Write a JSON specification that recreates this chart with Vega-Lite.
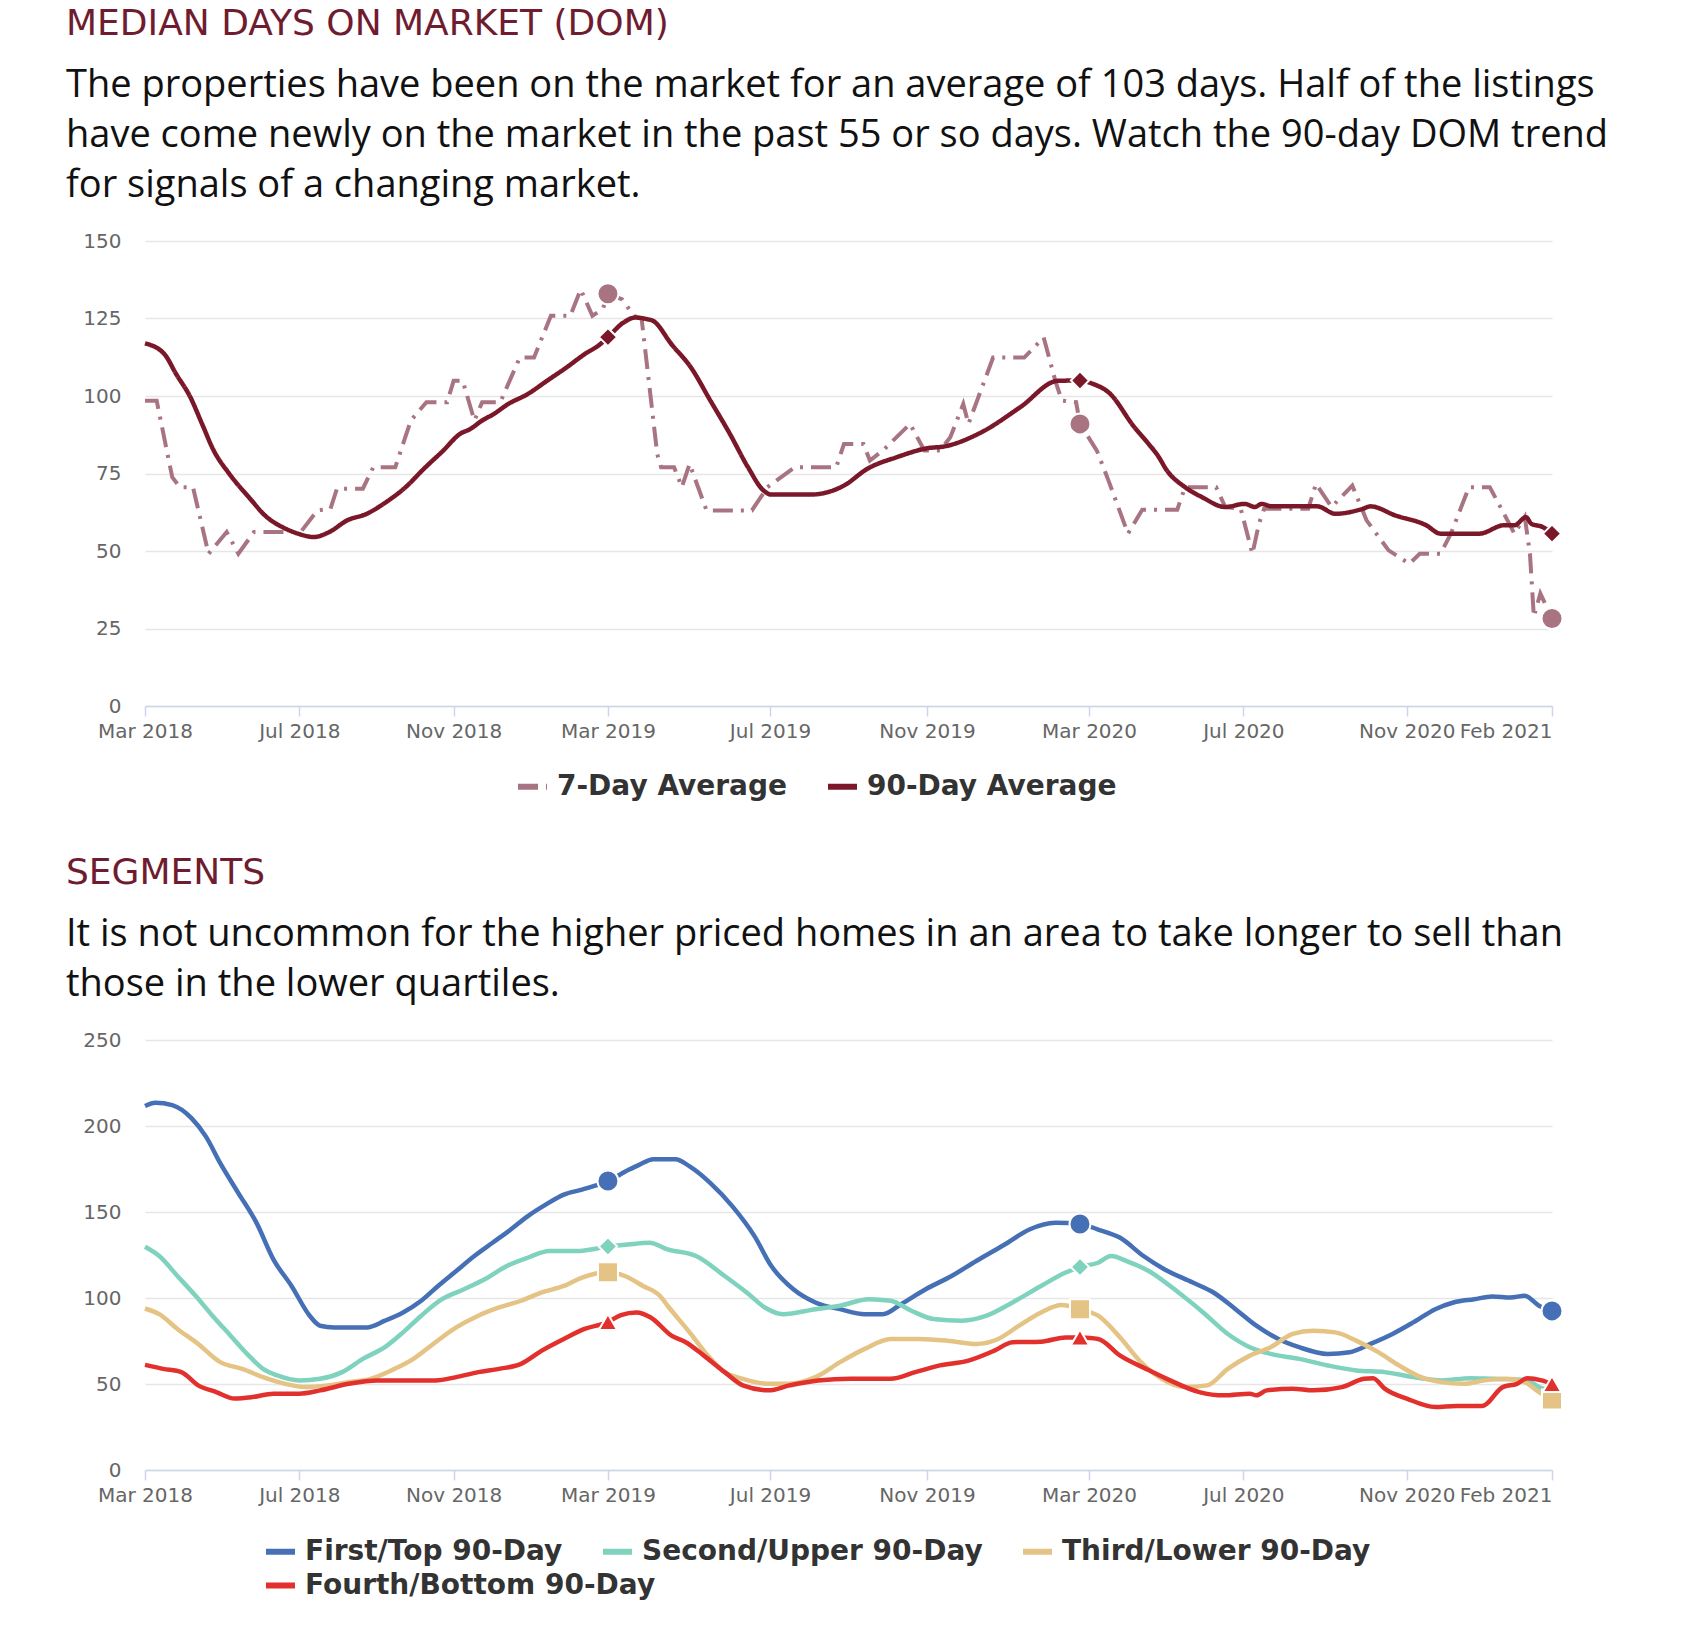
{
  "$schema": "https://vega.github.io/schema/vega-lite/v6.json",
  "background": "white",
  "padding": {"left": 66, "top": 6, "right": 0, "bottom": 0},
  "spacing": 54,
  "resolve": {
    "scale": {"color": "independent", "strokeDash": "independent", "stroke": "independent", "x": "independent", "y": "independent"},
    "legend": {"color": "independent", "strokeDash": "independent", "stroke": "independent"}
  },
  "config": {
    "view": {"stroke": null},
    "font": "DejaVu Sans",
    "axisX": {
      "title": null, "grid": false, "domainColor": "#ccd6eb", "domainWidth": 1.5,
      "tickColor": "#ccd6eb", "tickSize": 10, "tickWidth": 1.5,
      "labelFont": "DejaVu Sans", "labelFontSize": 20, "labelColor": "#666666",
      "labelPadding": 5, "labelOverlap": false, "labelFlush": false, "labelBound": false
    },
    "axisY": {
      "title": null, "grid": true, "gridColor": "#e6e6e6", "gridWidth": 1.5, "domain": false, "ticks": false,
      "labelFont": "DejaVu Sans", "labelFontSize": 20, "labelColor": "#666666", "labelPadding": 24
    },
    "legend": {
      "orient": "none", "direction": "horizontal", "title": null, "padding": 0,
      "symbolType": "stroke", "symbolSize": 841, "symbolStrokeWidth": 6,
      "labelFont": "DejaVu Sans", "labelFontWeight": "bold", "labelFontSize": 28, "labelColor": "#333333",
      "labelOffset": 7, "columnPadding": 28, "labelLimit": 600
    },
    "title": {
      "anchor": "start", "frame": "group", "dx": -79,
      "font": "DejaVu Sans", "fontSize": 36, "fontWeight": "normal", "color": "#6f1c30",
      "subtitleFont": "Open Sans", "subtitleFontSize": 38, "subtitleColor": "#111111",
      "subtitleLineHeight": 50, "subtitlePadding": 24, "offset": 25
    }
  },
  "datasets": {
    "dom": [
      {"date": "2018-03-01", "series": "90-Day Average", "value": 117},
      {"date": "2018-03-16", "series": "90-Day Average", "value": 113.5},
      {"date": "2018-03-25", "series": "90-Day Average", "value": 107.1},
      {"date": "2018-04-05", "series": "90-Day Average", "value": 99.6},
      {"date": "2018-04-14", "series": "90-Day Average", "value": 91.0},
      {"date": "2018-04-23", "series": "90-Day Average", "value": 82.4},
      {"date": "2018-05-05", "series": "90-Day Average", "value": 74.9},
      {"date": "2018-05-20", "series": "90-Day Average", "value": 67.4},
      {"date": "2018-06-03", "series": "90-Day Average", "value": 60.9},
      {"date": "2018-06-15", "series": "90-Day Average", "value": 57.7},
      {"date": "2018-06-27", "series": "90-Day Average", "value": 55.6},
      {"date": "2018-07-09", "series": "90-Day Average", "value": 54.5},
      {"date": "2018-07-21", "series": "90-Day Average", "value": 56.1},
      {"date": "2018-08-04", "series": "90-Day Average", "value": 59.9},
      {"date": "2018-08-19", "series": "90-Day Average", "value": 62.0},
      {"date": "2018-09-03", "series": "90-Day Average", "value": 65.8},
      {"date": "2018-09-18", "series": "90-Day Average", "value": 70.6},
      {"date": "2018-10-02", "series": "90-Day Average", "value": 76.5},
      {"date": "2018-10-17", "series": "90-Day Average", "value": 82.4},
      {"date": "2018-10-30", "series": "90-Day Average", "value": 87.8},
      {"date": "2018-11-07", "series": "90-Day Average", "value": 89.4},
      {"date": "2018-11-16", "series": "90-Day Average", "value": 92.1},
      {"date": "2018-11-25", "series": "90-Day Average", "value": 94.2},
      {"date": "2018-12-06", "series": "90-Day Average", "value": 97.4},
      {"date": "2018-12-21", "series": "90-Day Average", "value": 100.6},
      {"date": "2019-01-05", "series": "90-Day Average", "value": 104.9},
      {"date": "2019-01-20", "series": "90-Day Average", "value": 109.2},
      {"date": "2019-02-03", "series": "90-Day Average", "value": 113.5},
      {"date": "2019-02-15", "series": "90-Day Average", "value": 116.7},
      {"date": "2019-02-21", "series": "90-Day Average", "value": 119.0},
      {"date": "2019-03-05", "series": "90-Day Average", "value": 123.7},
      {"date": "2019-03-14", "series": "90-Day Average", "value": 125.3},
      {"date": "2019-03-23", "series": "90-Day Average", "value": 124.8},
      {"date": "2019-03-28", "series": "90-Day Average", "value": 124.2},
      {"date": "2019-04-11", "series": "90-Day Average", "value": 116.7},
      {"date": "2019-04-26", "series": "90-Day Average", "value": 109.2},
      {"date": "2019-05-11", "series": "90-Day Average", "value": 98.5},
      {"date": "2019-05-26", "series": "90-Day Average", "value": 87.8},
      {"date": "2019-06-09", "series": "90-Day Average", "value": 77.0},
      {"date": "2019-06-21", "series": "90-Day Average", "value": 69.5},
      {"date": "2019-06-27", "series": "90-Day Average", "value": 68.2},
      {"date": "2019-07-27", "series": "90-Day Average", "value": 68.2},
      {"date": "2019-08-22", "series": "90-Day Average", "value": 71.1},
      {"date": "2019-09-09", "series": "90-Day Average", "value": 76.5},
      {"date": "2019-10-02", "series": "90-Day Average", "value": 80.3},
      {"date": "2019-10-26", "series": "90-Day Average", "value": 83.2},
      {"date": "2019-11-07", "series": "90-Day Average", "value": 83.7},
      {"date": "2019-12-06", "series": "90-Day Average", "value": 88.3},
      {"date": "2020-01-05", "series": "90-Day Average", "value": 96.4},
      {"date": "2020-02-03", "series": "90-Day Average", "value": 104.9},
      {"date": "2020-02-20", "series": "90-Day Average", "value": 105.0},
      {"date": "2020-03-01", "series": "90-Day Average", "value": 103.9},
      {"date": "2020-03-13", "series": "90-Day Average", "value": 101.2},
      {"date": "2020-04-02", "series": "90-Day Average", "value": 89.9},
      {"date": "2020-04-13", "series": "90-Day Average", "value": 84.5},
      {"date": "2020-04-20", "series": "90-Day Average", "value": 80.8},
      {"date": "2020-04-27", "series": "90-Day Average", "value": 76.0},
      {"date": "2020-05-11", "series": "90-Day Average", "value": 70.6},
      {"date": "2020-05-24", "series": "90-Day Average", "value": 67.4},
      {"date": "2020-06-11", "series": "90-Day Average", "value": 64.2},
      {"date": "2020-06-26", "series": "90-Day Average", "value": 65.2},
      {"date": "2020-07-04", "series": "90-Day Average", "value": 64.2},
      {"date": "2020-07-09", "series": "90-Day Average", "value": 65.2},
      {"date": "2020-07-17", "series": "90-Day Average", "value": 64.4},
      {"date": "2020-08-21", "series": "90-Day Average", "value": 64.4},
      {"date": "2020-09-04", "series": "90-Day Average", "value": 62.0},
      {"date": "2020-09-25", "series": "90-Day Average", "value": 63.6},
      {"date": "2020-10-01", "series": "90-Day Average", "value": 64.4},
      {"date": "2020-10-20", "series": "90-Day Average", "value": 61.5},
      {"date": "2020-11-13", "series": "90-Day Average", "value": 58.3},
      {"date": "2020-11-24", "series": "90-Day Average", "value": 55.6},
      {"date": "2020-12-24", "series": "90-Day Average", "value": 55.6},
      {"date": "2021-01-12", "series": "90-Day Average", "value": 58.3},
      {"date": "2021-01-20", "series": "90-Day Average", "value": 58.3},
      {"date": "2021-01-29", "series": "90-Day Average", "value": 60.9},
      {"date": "2021-02-02", "series": "90-Day Average", "value": 58.8},
      {"date": "2021-02-11", "series": "90-Day Average", "value": 57.7},
      {"date": "2021-02-18", "series": "90-Day Average", "value": 55.6},
      {"date": "2018-03-01", "series": "7-Day Average", "value": 98.5},
      {"date": "2018-03-10", "series": "7-Day Average", "value": 98.5},
      {"date": "2018-03-22", "series": "7-Day Average", "value": 73.8},
      {"date": "2018-03-28", "series": "7-Day Average", "value": 70.6},
      {"date": "2018-04-07", "series": "7-Day Average", "value": 70.6},
      {"date": "2018-04-19", "series": "7-Day Average", "value": 49.1},
      {"date": "2018-05-03", "series": "7-Day Average", "value": 56.1},
      {"date": "2018-05-12", "series": "7-Day Average", "value": 49.1},
      {"date": "2018-05-24", "series": "7-Day Average", "value": 56.1},
      {"date": "2018-06-29", "series": "7-Day Average", "value": 56.1},
      {"date": "2018-07-12", "series": "7-Day Average", "value": 63.1},
      {"date": "2018-07-22", "series": "7-Day Average", "value": 63.6},
      {"date": "2018-07-27", "series": "7-Day Average", "value": 70.1},
      {"date": "2018-08-16", "series": "7-Day Average", "value": 70.1},
      {"date": "2018-08-24", "series": "7-Day Average", "value": 77.0},
      {"date": "2018-09-10", "series": "7-Day Average", "value": 77.0},
      {"date": "2018-09-22", "series": "7-Day Average", "value": 92.1},
      {"date": "2018-10-04", "series": "7-Day Average", "value": 98.0},
      {"date": "2018-10-20", "series": "7-Day Average", "value": 98.0},
      {"date": "2018-10-25", "series": "7-Day Average", "value": 104.9},
      {"date": "2018-11-01", "series": "7-Day Average", "value": 104.9},
      {"date": "2018-11-10", "series": "7-Day Average", "value": 92.1},
      {"date": "2018-11-16", "series": "7-Day Average", "value": 98.0},
      {"date": "2018-11-30", "series": "7-Day Average", "value": 98.0},
      {"date": "2018-12-15", "series": "7-Day Average", "value": 112.4},
      {"date": "2018-12-26", "series": "7-Day Average", "value": 112.4},
      {"date": "2019-01-08", "series": "7-Day Average", "value": 125.9},
      {"date": "2019-01-23", "series": "7-Day Average", "value": 125.9},
      {"date": "2019-01-31", "series": "7-Day Average", "value": 134.4},
      {"date": "2019-02-09", "series": "7-Day Average", "value": 125.9},
      {"date": "2019-02-17", "series": "7-Day Average", "value": 128.0},
      {"date": "2019-02-21", "series": "7-Day Average", "value": 133.0},
      {"date": "2019-03-04", "series": "7-Day Average", "value": 131.2},
      {"date": "2019-03-13", "series": "7-Day Average", "value": 125.9},
      {"date": "2019-03-19", "series": "7-Day Average", "value": 124.8},
      {"date": "2019-03-31", "series": "7-Day Average", "value": 81.3},
      {"date": "2019-04-03", "series": "7-Day Average", "value": 77.0},
      {"date": "2019-04-13", "series": "7-Day Average", "value": 77.0},
      {"date": "2019-04-19", "series": "7-Day Average", "value": 70.6},
      {"date": "2019-04-25", "series": "7-Day Average", "value": 78.1},
      {"date": "2019-05-08", "series": "7-Day Average", "value": 63.1},
      {"date": "2019-06-12", "series": "7-Day Average", "value": 63.1},
      {"date": "2019-06-24", "series": "7-Day Average", "value": 70.6},
      {"date": "2019-07-15", "series": "7-Day Average", "value": 77.0},
      {"date": "2019-08-16", "series": "7-Day Average", "value": 77.0},
      {"date": "2019-08-22", "series": "7-Day Average", "value": 84.5},
      {"date": "2019-09-06", "series": "7-Day Average", "value": 84.5},
      {"date": "2019-09-11", "series": "7-Day Average", "value": 79.2},
      {"date": "2019-09-21", "series": "7-Day Average", "value": 82.4},
      {"date": "2019-10-12", "series": "7-Day Average", "value": 91.0},
      {"date": "2019-10-23", "series": "7-Day Average", "value": 82.4},
      {"date": "2019-11-04", "series": "7-Day Average", "value": 82.4},
      {"date": "2019-11-12", "series": "7-Day Average", "value": 86.7},
      {"date": "2019-11-22", "series": "7-Day Average", "value": 97.4},
      {"date": "2019-11-26", "series": "7-Day Average", "value": 91.0},
      {"date": "2019-12-15", "series": "7-Day Average", "value": 112.4},
      {"date": "2020-01-08", "series": "7-Day Average", "value": 112.4},
      {"date": "2020-01-23", "series": "7-Day Average", "value": 118.9},
      {"date": "2020-02-01", "series": "7-Day Average", "value": 104.9},
      {"date": "2020-02-06", "series": "7-Day Average", "value": 98.5},
      {"date": "2020-02-17", "series": "7-Day Average", "value": 98.0},
      {"date": "2020-02-20", "series": "7-Day Average", "value": 91.0},
      {"date": "2020-03-04", "series": "7-Day Average", "value": 82.4},
      {"date": "2020-03-13", "series": "7-Day Average", "value": 72.7},
      {"date": "2020-03-28", "series": "7-Day Average", "value": 55.6},
      {"date": "2020-04-08", "series": "7-Day Average", "value": 63.3},
      {"date": "2020-05-05", "series": "7-Day Average", "value": 63.3},
      {"date": "2020-05-11", "series": "7-Day Average", "value": 70.6},
      {"date": "2020-06-04", "series": "7-Day Average", "value": 70.6},
      {"date": "2020-06-11", "series": "7-Day Average", "value": 64.2},
      {"date": "2020-06-23", "series": "7-Day Average", "value": 63.6},
      {"date": "2020-07-02", "series": "7-Day Average", "value": 49.1},
      {"date": "2020-07-07", "series": "7-Day Average", "value": 58.8},
      {"date": "2020-07-11", "series": "7-Day Average", "value": 63.6},
      {"date": "2020-08-14", "series": "7-Day Average", "value": 63.6},
      {"date": "2020-08-20", "series": "7-Day Average", "value": 71.7},
      {"date": "2020-09-01", "series": "7-Day Average", "value": 64.2},
      {"date": "2020-09-17", "series": "7-Day Average", "value": 71.1},
      {"date": "2020-09-28", "series": "7-Day Average", "value": 59.9},
      {"date": "2020-10-15", "series": "7-Day Average", "value": 50.2},
      {"date": "2020-10-31", "series": "7-Day Average", "value": 45.9},
      {"date": "2020-11-08", "series": "7-Day Average", "value": 49.1},
      {"date": "2020-11-24", "series": "7-Day Average", "value": 49.1},
      {"date": "2020-12-02", "series": "7-Day Average", "value": 55.6},
      {"date": "2020-12-16", "series": "7-Day Average", "value": 70.6},
      {"date": "2021-01-01", "series": "7-Day Average", "value": 70.6},
      {"date": "2021-01-12", "series": "7-Day Average", "value": 62.0},
      {"date": "2021-01-20", "series": "7-Day Average", "value": 55.6},
      {"date": "2021-01-28", "series": "7-Day Average", "value": 61.0},
      {"date": "2021-02-01", "series": "7-Day Average", "value": 49.1},
      {"date": "2021-02-04", "series": "7-Day Average", "value": 28.8},
      {"date": "2021-02-09", "series": "7-Day Average", "value": 36.3},
      {"date": "2021-02-18", "series": "7-Day Average", "value": 28.2}
    ],
    "seg": [
      {"date": "2018-03-01", "series": "First/Top 90-Day", "value": 211.6},
      {"date": "2018-03-09", "series": "First/Top 90-Day", "value": 213.5},
      {"date": "2018-03-22", "series": "First/Top 90-Day", "value": 212.1},
      {"date": "2018-04-06", "series": "First/Top 90-Day", "value": 204.4},
      {"date": "2018-04-17", "series": "First/Top 90-Day", "value": 193.8},
      {"date": "2018-04-28", "series": "First/Top 90-Day", "value": 178.4},
      {"date": "2018-05-12", "series": "First/Top 90-Day", "value": 161.0},
      {"date": "2018-05-26", "series": "First/Top 90-Day", "value": 143.7},
      {"date": "2018-06-08", "series": "First/Top 90-Day", "value": 122.5},
      {"date": "2018-06-22", "series": "First/Top 90-Day", "value": 107.0},
      {"date": "2018-07-06", "series": "First/Top 90-Day", "value": 89.7},
      {"date": "2018-07-14", "series": "First/Top 90-Day", "value": 83.9},
      {"date": "2018-07-25", "series": "First/Top 90-Day", "value": 82.9},
      {"date": "2018-08-19", "series": "First/Top 90-Day", "value": 82.9},
      {"date": "2018-09-02", "series": "First/Top 90-Day", "value": 86.8},
      {"date": "2018-09-16", "series": "First/Top 90-Day", "value": 91.6},
      {"date": "2018-09-30", "series": "First/Top 90-Day", "value": 98.4},
      {"date": "2018-10-13", "series": "First/Top 90-Day", "value": 107.0},
      {"date": "2018-10-27", "series": "First/Top 90-Day", "value": 115.7},
      {"date": "2018-11-10", "series": "First/Top 90-Day", "value": 124.4},
      {"date": "2018-11-24", "series": "First/Top 90-Day", "value": 132.1},
      {"date": "2018-12-08", "series": "First/Top 90-Day", "value": 139.8},
      {"date": "2018-12-21", "series": "First/Top 90-Day", "value": 147.5},
      {"date": "2019-01-04", "series": "First/Top 90-Day", "value": 154.3},
      {"date": "2019-01-18", "series": "First/Top 90-Day", "value": 160.1},
      {"date": "2019-02-01", "series": "First/Top 90-Day", "value": 163.0},
      {"date": "2019-02-21", "series": "First/Top 90-Day", "value": 168.0},
      {"date": "2019-03-09", "series": "First/Top 90-Day", "value": 174.5},
      {"date": "2019-03-17", "series": "First/Top 90-Day", "value": 177.4},
      {"date": "2019-03-28", "series": "First/Top 90-Day", "value": 180.7},
      {"date": "2019-04-14", "series": "First/Top 90-Day", "value": 180.7},
      {"date": "2019-04-25", "series": "First/Top 90-Day", "value": 176.5},
      {"date": "2019-05-11", "series": "First/Top 90-Day", "value": 166.8},
      {"date": "2019-05-28", "series": "First/Top 90-Day", "value": 153.3},
      {"date": "2019-06-14", "series": "First/Top 90-Day", "value": 136.0},
      {"date": "2019-06-27", "series": "First/Top 90-Day", "value": 118.6},
      {"date": "2019-07-14", "series": "First/Top 90-Day", "value": 105.1},
      {"date": "2019-07-31", "series": "First/Top 90-Day", "value": 97.4},
      {"date": "2019-08-19", "series": "First/Top 90-Day", "value": 93.5},
      {"date": "2019-09-07", "series": "First/Top 90-Day", "value": 90.6},
      {"date": "2019-09-21", "series": "First/Top 90-Day", "value": 90.6},
      {"date": "2019-10-05", "series": "First/Top 90-Day", "value": 96.4},
      {"date": "2019-10-24", "series": "First/Top 90-Day", "value": 105.1},
      {"date": "2019-11-13", "series": "First/Top 90-Day", "value": 112.8},
      {"date": "2019-12-02", "series": "First/Top 90-Day", "value": 121.5},
      {"date": "2019-12-24", "series": "First/Top 90-Day", "value": 131.1},
      {"date": "2020-01-12", "series": "First/Top 90-Day", "value": 139.8},
      {"date": "2020-02-01", "series": "First/Top 90-Day", "value": 143.7},
      {"date": "2020-02-20", "series": "First/Top 90-Day", "value": 143.0},
      {"date": "2020-03-05", "series": "First/Top 90-Day", "value": 139.8},
      {"date": "2020-03-22", "series": "First/Top 90-Day", "value": 135.0},
      {"date": "2020-04-09", "series": "First/Top 90-Day", "value": 124.4},
      {"date": "2020-04-25", "series": "First/Top 90-Day", "value": 116.7},
      {"date": "2020-05-17", "series": "First/Top 90-Day", "value": 109.0},
      {"date": "2020-06-02", "series": "First/Top 90-Day", "value": 103.2},
      {"date": "2020-06-19", "series": "First/Top 90-Day", "value": 93.5},
      {"date": "2020-07-05", "series": "First/Top 90-Day", "value": 83.9},
      {"date": "2020-07-22", "series": "First/Top 90-Day", "value": 76.2},
      {"date": "2020-08-07", "series": "First/Top 90-Day", "value": 71.4},
      {"date": "2020-08-29", "series": "First/Top 90-Day", "value": 67.5},
      {"date": "2020-09-15", "series": "First/Top 90-Day", "value": 68.5},
      {"date": "2020-10-01", "series": "First/Top 90-Day", "value": 73.3},
      {"date": "2020-10-18", "series": "First/Top 90-Day", "value": 79.1},
      {"date": "2020-11-03", "series": "First/Top 90-Day", "value": 85.8},
      {"date": "2020-11-20", "series": "First/Top 90-Day", "value": 93.5},
      {"date": "2020-12-04", "series": "First/Top 90-Day", "value": 97.4},
      {"date": "2020-12-20", "series": "First/Top 90-Day", "value": 99.3},
      {"date": "2021-01-03", "series": "First/Top 90-Day", "value": 100.9},
      {"date": "2021-01-17", "series": "First/Top 90-Day", "value": 100.3},
      {"date": "2021-01-28", "series": "First/Top 90-Day", "value": 101.3},
      {"date": "2021-02-08", "series": "First/Top 90-Day", "value": 95.5},
      {"date": "2021-02-18", "series": "First/Top 90-Day", "value": 92.5},
      {"date": "2018-03-01", "series": "Second/Upper 90-Day", "value": 129.8},
      {"date": "2018-03-12", "series": "Second/Upper 90-Day", "value": 124.4},
      {"date": "2018-03-26", "series": "Second/Upper 90-Day", "value": 112.8},
      {"date": "2018-04-09", "series": "Second/Upper 90-Day", "value": 101.3},
      {"date": "2018-04-22", "series": "Second/Upper 90-Day", "value": 89.7},
      {"date": "2018-05-06", "series": "Second/Upper 90-Day", "value": 78.1},
      {"date": "2018-05-20", "series": "Second/Upper 90-Day", "value": 66.5},
      {"date": "2018-05-31", "series": "Second/Upper 90-Day", "value": 58.8},
      {"date": "2018-06-11", "series": "Second/Upper 90-Day", "value": 55.0},
      {"date": "2018-06-28", "series": "Second/Upper 90-Day", "value": 52.1},
      {"date": "2018-07-14", "series": "Second/Upper 90-Day", "value": 53.0},
      {"date": "2018-07-31", "series": "Second/Upper 90-Day", "value": 56.9},
      {"date": "2018-08-16", "series": "Second/Upper 90-Day", "value": 64.6},
      {"date": "2018-09-02", "series": "Second/Upper 90-Day", "value": 71.4},
      {"date": "2018-09-16", "series": "Second/Upper 90-Day", "value": 80.0},
      {"date": "2018-09-30", "series": "Second/Upper 90-Day", "value": 89.7},
      {"date": "2018-10-16", "series": "Second/Upper 90-Day", "value": 99.3},
      {"date": "2018-11-02", "series": "Second/Upper 90-Day", "value": 105.1},
      {"date": "2018-11-18", "series": "Second/Upper 90-Day", "value": 110.9},
      {"date": "2018-12-05", "series": "Second/Upper 90-Day", "value": 118.6},
      {"date": "2018-12-21", "series": "Second/Upper 90-Day", "value": 123.4},
      {"date": "2019-01-07", "series": "Second/Upper 90-Day", "value": 127.3},
      {"date": "2019-01-29", "series": "Second/Upper 90-Day", "value": 127.3},
      {"date": "2019-02-09", "series": "Second/Upper 90-Day", "value": 128.3},
      {"date": "2019-02-21", "series": "Second/Upper 90-Day", "value": 130.0},
      {"date": "2019-03-08", "series": "Second/Upper 90-Day", "value": 131.1},
      {"date": "2019-03-25", "series": "Second/Upper 90-Day", "value": 132.1},
      {"date": "2019-04-08", "series": "Second/Upper 90-Day", "value": 128.3},
      {"date": "2019-04-30", "series": "Second/Upper 90-Day", "value": 124.4},
      {"date": "2019-05-22", "series": "Second/Upper 90-Day", "value": 112.8},
      {"date": "2019-06-08", "series": "Second/Upper 90-Day", "value": 103.2},
      {"date": "2019-06-22", "series": "Second/Upper 90-Day", "value": 94.5},
      {"date": "2019-07-06", "series": "Second/Upper 90-Day", "value": 90.6},
      {"date": "2019-07-31", "series": "Second/Upper 90-Day", "value": 93.5},
      {"date": "2019-08-19", "series": "Second/Upper 90-Day", "value": 95.5},
      {"date": "2019-09-10", "series": "Second/Upper 90-Day", "value": 99.3},
      {"date": "2019-09-27", "series": "Second/Upper 90-Day", "value": 98.4},
      {"date": "2019-10-13", "series": "Second/Upper 90-Day", "value": 92.6},
      {"date": "2019-10-30", "series": "Second/Upper 90-Day", "value": 87.8},
      {"date": "2019-11-21", "series": "Second/Upper 90-Day", "value": 86.8},
      {"date": "2019-12-10", "series": "Second/Upper 90-Day", "value": 89.7},
      {"date": "2019-12-30", "series": "Second/Upper 90-Day", "value": 97.4},
      {"date": "2020-01-21", "series": "Second/Upper 90-Day", "value": 107.0},
      {"date": "2020-02-09", "series": "Second/Upper 90-Day", "value": 114.8},
      {"date": "2020-02-20", "series": "Second/Upper 90-Day", "value": 118.0},
      {"date": "2020-03-05", "series": "Second/Upper 90-Day", "value": 120.5},
      {"date": "2020-03-15", "series": "Second/Upper 90-Day", "value": 124.4},
      {"date": "2020-03-27", "series": "Second/Upper 90-Day", "value": 121.5},
      {"date": "2020-04-13", "series": "Second/Upper 90-Day", "value": 115.7},
      {"date": "2020-05-06", "series": "Second/Upper 90-Day", "value": 103.2},
      {"date": "2020-05-25", "series": "Second/Upper 90-Day", "value": 91.6},
      {"date": "2020-06-13", "series": "Second/Upper 90-Day", "value": 79.1},
      {"date": "2020-06-30", "series": "Second/Upper 90-Day", "value": 71.4},
      {"date": "2020-07-16", "series": "Second/Upper 90-Day", "value": 67.5},
      {"date": "2020-08-07", "series": "Second/Upper 90-Day", "value": 64.6},
      {"date": "2020-08-29", "series": "Second/Upper 90-Day", "value": 60.8},
      {"date": "2020-09-20", "series": "Second/Upper 90-Day", "value": 57.9},
      {"date": "2020-10-12", "series": "Second/Upper 90-Day", "value": 56.9},
      {"date": "2020-11-03", "series": "Second/Upper 90-Day", "value": 54.0},
      {"date": "2020-11-25", "series": "Second/Upper 90-Day", "value": 52.1},
      {"date": "2020-12-17", "series": "Second/Upper 90-Day", "value": 53.4},
      {"date": "2021-01-03", "series": "Second/Upper 90-Day", "value": 53.0},
      {"date": "2021-01-19", "series": "Second/Upper 90-Day", "value": 52.7},
      {"date": "2021-01-30", "series": "Second/Upper 90-Day", "value": 52.1},
      {"date": "2021-02-08", "series": "Second/Upper 90-Day", "value": 48.2},
      {"date": "2021-02-18", "series": "Second/Upper 90-Day", "value": 46.0},
      {"date": "2018-03-01", "series": "Third/Lower 90-Day", "value": 93.9},
      {"date": "2018-03-12", "series": "Third/Lower 90-Day", "value": 90.6},
      {"date": "2018-03-26", "series": "Third/Lower 90-Day", "value": 82.0},
      {"date": "2018-04-11", "series": "Third/Lower 90-Day", "value": 73.3},
      {"date": "2018-04-28", "series": "Third/Lower 90-Day", "value": 62.7},
      {"date": "2018-05-15", "series": "Third/Lower 90-Day", "value": 58.8},
      {"date": "2018-05-31", "series": "Third/Lower 90-Day", "value": 54.0},
      {"date": "2018-06-17", "series": "Third/Lower 90-Day", "value": 50.1},
      {"date": "2018-07-03", "series": "Third/Lower 90-Day", "value": 48.2},
      {"date": "2018-07-20", "series": "Third/Lower 90-Day", "value": 49.2},
      {"date": "2018-08-05", "series": "Third/Lower 90-Day", "value": 51.1},
      {"date": "2018-08-22", "series": "Third/Lower 90-Day", "value": 53.0},
      {"date": "2018-09-07", "series": "Third/Lower 90-Day", "value": 57.9},
      {"date": "2018-09-24", "series": "Third/Lower 90-Day", "value": 64.6},
      {"date": "2018-10-11", "series": "Third/Lower 90-Day", "value": 74.3},
      {"date": "2018-10-27", "series": "Third/Lower 90-Day", "value": 82.9},
      {"date": "2018-11-13", "series": "Third/Lower 90-Day", "value": 89.7},
      {"date": "2018-11-29", "series": "Third/Lower 90-Day", "value": 94.5},
      {"date": "2018-12-16", "series": "Third/Lower 90-Day", "value": 98.4},
      {"date": "2019-01-01", "series": "Third/Lower 90-Day", "value": 103.2},
      {"date": "2019-01-18", "series": "Third/Lower 90-Day", "value": 107.0},
      {"date": "2019-02-01", "series": "Third/Lower 90-Day", "value": 111.9},
      {"date": "2019-02-21", "series": "Third/Lower 90-Day", "value": 115.0},
      {"date": "2019-03-06", "series": "Third/Lower 90-Day", "value": 112.8},
      {"date": "2019-03-20", "series": "Third/Lower 90-Day", "value": 107.0},
      {"date": "2019-04-02", "series": "Third/Lower 90-Day", "value": 101.3},
      {"date": "2019-04-08", "series": "Third/Lower 90-Day", "value": 95.5},
      {"date": "2019-04-25", "series": "Third/Lower 90-Day", "value": 80.0},
      {"date": "2019-05-09", "series": "Third/Lower 90-Day", "value": 66.5},
      {"date": "2019-05-22", "series": "Third/Lower 90-Day", "value": 56.9},
      {"date": "2019-06-05", "series": "Third/Lower 90-Day", "value": 53.0},
      {"date": "2019-06-25", "series": "Third/Lower 90-Day", "value": 50.1},
      {"date": "2019-07-11", "series": "Third/Lower 90-Day", "value": 50.1},
      {"date": "2019-07-31", "series": "Third/Lower 90-Day", "value": 54.0},
      {"date": "2019-08-19", "series": "Third/Lower 90-Day", "value": 62.7},
      {"date": "2019-09-07", "series": "Third/Lower 90-Day", "value": 70.4},
      {"date": "2019-09-27", "series": "Third/Lower 90-Day", "value": 76.2},
      {"date": "2019-10-19", "series": "Third/Lower 90-Day", "value": 76.2},
      {"date": "2019-11-10", "series": "Third/Lower 90-Day", "value": 75.2},
      {"date": "2019-12-02", "series": "Third/Lower 90-Day", "value": 73.3},
      {"date": "2019-12-19", "series": "Third/Lower 90-Day", "value": 76.2},
      {"date": "2020-01-04", "series": "Third/Lower 90-Day", "value": 83.9},
      {"date": "2020-01-21", "series": "Third/Lower 90-Day", "value": 91.6},
      {"date": "2020-02-06", "series": "Third/Lower 90-Day", "value": 95.9},
      {"date": "2020-02-20", "series": "Third/Lower 90-Day", "value": 93.5},
      {"date": "2020-03-05", "series": "Third/Lower 90-Day", "value": 89.7},
      {"date": "2020-03-22", "series": "Third/Lower 90-Day", "value": 77.0},
      {"date": "2020-04-06", "series": "Third/Lower 90-Day", "value": 63.5},
      {"date": "2020-04-23", "series": "Third/Lower 90-Day", "value": 53.0},
      {"date": "2020-05-11", "series": "Third/Lower 90-Day", "value": 48.2},
      {"date": "2020-05-28", "series": "Third/Lower 90-Day", "value": 49.2},
      {"date": "2020-06-13", "series": "Third/Lower 90-Day", "value": 58.8},
      {"date": "2020-06-30", "series": "Third/Lower 90-Day", "value": 66.5},
      {"date": "2020-07-16", "series": "Third/Lower 90-Day", "value": 71.4},
      {"date": "2020-08-02", "series": "Third/Lower 90-Day", "value": 79.1},
      {"date": "2020-08-18", "series": "Third/Lower 90-Day", "value": 81.0},
      {"date": "2020-09-04", "series": "Third/Lower 90-Day", "value": 80.0},
      {"date": "2020-09-20", "series": "Third/Lower 90-Day", "value": 75.2},
      {"date": "2020-10-07", "series": "Third/Lower 90-Day", "value": 68.5},
      {"date": "2020-10-23", "series": "Third/Lower 90-Day", "value": 60.8},
      {"date": "2020-11-09", "series": "Third/Lower 90-Day", "value": 54.0},
      {"date": "2020-11-25", "series": "Third/Lower 90-Day", "value": 51.1},
      {"date": "2020-12-12", "series": "Third/Lower 90-Day", "value": 50.1},
      {"date": "2020-12-28", "series": "Third/Lower 90-Day", "value": 52.1},
      {"date": "2021-01-14", "series": "Third/Lower 90-Day", "value": 53.0},
      {"date": "2021-01-28", "series": "Third/Lower 90-Day", "value": 51.1},
      {"date": "2021-02-08", "series": "Third/Lower 90-Day", "value": 45.3},
      {"date": "2021-02-18", "series": "Third/Lower 90-Day", "value": 41.0},
      {"date": "2018-03-01", "series": "Fourth/Bottom 90-Day", "value": 61.1},
      {"date": "2018-03-15", "series": "Fourth/Bottom 90-Day", "value": 58.8},
      {"date": "2018-03-29", "series": "Fourth/Bottom 90-Day", "value": 56.9},
      {"date": "2018-04-11", "series": "Fourth/Bottom 90-Day", "value": 49.2},
      {"date": "2018-04-25", "series": "Fourth/Bottom 90-Day", "value": 45.3},
      {"date": "2018-05-09", "series": "Fourth/Bottom 90-Day", "value": 41.5},
      {"date": "2018-05-23", "series": "Fourth/Bottom 90-Day", "value": 42.4},
      {"date": "2018-06-08", "series": "Fourth/Bottom 90-Day", "value": 44.4},
      {"date": "2018-06-28", "series": "Fourth/Bottom 90-Day", "value": 44.4},
      {"date": "2018-07-14", "series": "Fourth/Bottom 90-Day", "value": 46.3},
      {"date": "2018-08-05", "series": "Fourth/Bottom 90-Day", "value": 50.1},
      {"date": "2018-08-27", "series": "Fourth/Bottom 90-Day", "value": 52.1},
      {"date": "2018-09-18", "series": "Fourth/Bottom 90-Day", "value": 52.1},
      {"date": "2018-10-11", "series": "Fourth/Bottom 90-Day", "value": 52.1},
      {"date": "2018-10-27", "series": "Fourth/Bottom 90-Day", "value": 54.0},
      {"date": "2018-11-13", "series": "Fourth/Bottom 90-Day", "value": 56.9},
      {"date": "2018-11-29", "series": "Fourth/Bottom 90-Day", "value": 58.8},
      {"date": "2018-12-16", "series": "Fourth/Bottom 90-Day", "value": 61.7},
      {"date": "2019-01-01", "series": "Fourth/Bottom 90-Day", "value": 69.4},
      {"date": "2019-01-18", "series": "Fourth/Bottom 90-Day", "value": 76.2},
      {"date": "2019-02-03", "series": "Fourth/Bottom 90-Day", "value": 82.0},
      {"date": "2019-02-21", "series": "Fourth/Bottom 90-Day", "value": 86.0},
      {"date": "2019-03-03", "series": "Fourth/Bottom 90-Day", "value": 90.1},
      {"date": "2019-03-15", "series": "Fourth/Bottom 90-Day", "value": 91.6},
      {"date": "2019-03-26", "series": "Fourth/Bottom 90-Day", "value": 88.7},
      {"date": "2019-04-11", "series": "Fourth/Bottom 90-Day", "value": 78.1},
      {"date": "2019-04-22", "series": "Fourth/Bottom 90-Day", "value": 74.3},
      {"date": "2019-05-06", "series": "Fourth/Bottom 90-Day", "value": 66.5},
      {"date": "2019-05-22", "series": "Fourth/Bottom 90-Day", "value": 56.9},
      {"date": "2019-06-05", "series": "Fourth/Bottom 90-Day", "value": 49.2},
      {"date": "2019-06-25", "series": "Fourth/Bottom 90-Day", "value": 46.3},
      {"date": "2019-07-11", "series": "Fourth/Bottom 90-Day", "value": 49.2},
      {"date": "2019-08-02", "series": "Fourth/Bottom 90-Day", "value": 52.1},
      {"date": "2019-08-27", "series": "Fourth/Bottom 90-Day", "value": 53.0},
      {"date": "2019-09-27", "series": "Fourth/Bottom 90-Day", "value": 53.0},
      {"date": "2019-10-16", "series": "Fourth/Bottom 90-Day", "value": 56.9},
      {"date": "2019-11-04", "series": "Fourth/Bottom 90-Day", "value": 60.8},
      {"date": "2019-11-26", "series": "Fourth/Bottom 90-Day", "value": 63.6},
      {"date": "2019-12-16", "series": "Fourth/Bottom 90-Day", "value": 69.4},
      {"date": "2019-12-30", "series": "Fourth/Bottom 90-Day", "value": 74.3},
      {"date": "2020-01-21", "series": "Fourth/Bottom 90-Day", "value": 74.6},
      {"date": "2020-02-09", "series": "Fourth/Bottom 90-Day", "value": 77.1},
      {"date": "2020-02-20", "series": "Fourth/Bottom 90-Day", "value": 77.0},
      {"date": "2020-03-05", "series": "Fourth/Bottom 90-Day", "value": 76.2},
      {"date": "2020-03-22", "series": "Fourth/Bottom 90-Day", "value": 66.5},
      {"date": "2020-04-11", "series": "Fourth/Bottom 90-Day", "value": 58.8},
      {"date": "2020-04-27", "series": "Fourth/Bottom 90-Day", "value": 53.0},
      {"date": "2020-05-22", "series": "Fourth/Bottom 90-Day", "value": 45.3},
      {"date": "2020-06-10", "series": "Fourth/Bottom 90-Day", "value": 43.4},
      {"date": "2020-06-30", "series": "Fourth/Bottom 90-Day", "value": 44.4},
      {"date": "2020-07-05", "series": "Fourth/Bottom 90-Day", "value": 43.4},
      {"date": "2020-07-13", "series": "Fourth/Bottom 90-Day", "value": 46.3},
      {"date": "2020-08-02", "series": "Fourth/Bottom 90-Day", "value": 47.3},
      {"date": "2020-08-18", "series": "Fourth/Bottom 90-Day", "value": 46.3},
      {"date": "2020-09-09", "series": "Fourth/Bottom 90-Day", "value": 48.2},
      {"date": "2020-09-26", "series": "Fourth/Bottom 90-Day", "value": 53.0},
      {"date": "2020-10-03", "series": "Fourth/Bottom 90-Day", "value": 53.4},
      {"date": "2020-10-12", "series": "Fourth/Bottom 90-Day", "value": 47.3},
      {"date": "2020-10-29", "series": "Fourth/Bottom 90-Day", "value": 41.5},
      {"date": "2020-11-20", "series": "Fourth/Bottom 90-Day", "value": 36.6},
      {"date": "2020-12-06", "series": "Fourth/Bottom 90-Day", "value": 37.2},
      {"date": "2020-12-26", "series": "Fourth/Bottom 90-Day", "value": 37.2},
      {"date": "2021-01-11", "series": "Fourth/Bottom 90-Day", "value": 48.2},
      {"date": "2021-01-22", "series": "Fourth/Bottom 90-Day", "value": 50.1},
      {"date": "2021-01-30", "series": "Fourth/Bottom 90-Day", "value": 53.4},
      {"date": "2021-02-10", "series": "Fourth/Bottom 90-Day", "value": 52.1},
      {"date": "2021-02-18", "series": "Fourth/Bottom 90-Day", "value": 50.0}
    ]
  },
  "vconcat": [
    {
      "width": 1407,
      "height": 465,
      "title": {
        "text": "MEDIAN DAYS ON MARKET (DOM)",
        "subtitle": [
          "The properties have been on the market for an average of 103 days. Half of the listings",
          "have come newly on the market in the past 55 or so days. Watch the 90-day DOM trend",
          "for signals of a changing market."
        ]
      },
      "data": {"name": "dom"},
      "encoding": {
        "x": {
          "field": "date", "type": "temporal",
          "scale": {"type": "utc", "domain": [{"year": 2018, "month": 3, "date": 1, "utc": true}, {"year": 2021, "month": 2, "date": 18, "utc": true}]},
          "axis": {
            "values": [
              {"year": 2018, "month": 3, "date": 1, "utc": true},
              {"year": 2018, "month": 6, "date": 28, "utc": true},
              {"year": 2018, "month": 10, "date": 25, "utc": true},
              {"year": 2019, "month": 2, "date": 21, "utc": true},
              {"year": 2019, "month": 6, "date": 26, "utc": true},
              {"year": 2019, "month": 10, "date": 25, "utc": true},
              {"year": 2020, "month": 2, "date": 27, "utc": true},
              {"year": 2020, "month": 6, "date": 25, "utc": true},
              {"year": 2020, "month": 10, "date": 29, "utc": true},
              {"year": 2021, "month": 2, "date": 18, "utc": true}
            ],
            "labelExpr": "utcFormat(time(datum.value) + 864000000, '%b %Y')",
            "labelAlign": {"condition": {"test": "time(datum.value) > utc(2021, 0, 20)", "value": "right"}, "value": "center"}
          }
        },
        "y": {
          "field": "value", "type": "quantitative",
          "scale": {"domain": [0, 150], "nice": false},
          "axis": {"values": [0, 25, 50, 75, 100, 125, 150]}
        }
      },
      "layer": [
        {
          "transform": [{"filter": "datum.series == '7-Day Average'"}],
          "mark": {"type": "line", "strokeWidth": 4, "strokeCap": "butt"},
          "encoding": {
            "color": {
              "field": "series", "type": "nominal",
              "scale": {"domain": ["7-Day Average", "90-Day Average"], "range": ["#a87482", "#7a1728"]},
              "legend": {"legendX": 370, "legendY": 528, "symbolType": "stroke"}
            },
            "strokeDash": {
              "field": "series", "type": "nominal",
              "scale": {"domain": ["7-Day Average", "90-Day Average"], "range": [[20, 8, 3, 8], [1, 0]]},
              "legend": {"legendX": 370, "legendY": 528, "symbolType": "stroke"}
            }
          }
        },
        {
          "transform": [{"filter": "datum.series == '90-Day Average'"}],
          "mark": {"type": "line", "strokeWidth": 4.5, "interpolate": "monotone"},
          "encoding": {
            "color": {
              "field": "series", "type": "nominal",
              "legend": {"legendX": 370, "legendY": 528, "symbolType": "stroke"}
            },
            "strokeDash": {
              "field": "series", "type": "nominal",
              "legend": {"legendX": 370, "legendY": 528, "symbolType": "stroke"}
            }
          }
        },
        {
          "transform": [{"filter": "datum.series == '7-Day Average' && indexof(['2019-02-21', '2020-02-20', '2021-02-18'], isString(datum.date) ? datum.date : utcFormat(datum.date, '%Y-%m-%d')) >= 0"}],
          "mark": {"type": "point", "shape": "circle", "filled": true, "size": 440, "color": "#a87482", "stroke": "white", "strokeWidth": 2, "opacity": 1}
        },
        {
          "transform": [{"filter": "datum.series == '90-Day Average' && indexof(['2019-02-21', '2020-02-20', '2021-02-18'], isString(datum.date) ? datum.date : utcFormat(datum.date, '%Y-%m-%d')) >= 0"}],
          "mark": {"type": "point", "shape": "diamond", "filled": true, "size": 330, "color": "#7a1728", "stroke": "white", "strokeWidth": 2, "opacity": 1}
        }
      ]
    },
    {
      "width": 1407,
      "height": 430,
      "title": {
        "text": "SEGMENTS",
        "subtitle": [
          "It is not uncommon for the higher priced homes in an area to take longer to sell than",
          "those in the lower quartiles."
        ]
      },
      "data": {"name": "seg"},
      "encoding": {
        "x": {
          "field": "date", "type": "temporal",
          "scale": {"type": "utc", "domain": [{"year": 2018, "month": 3, "date": 1, "utc": true}, {"year": 2021, "month": 2, "date": 18, "utc": true}]},
          "axis": {
            "values": [
              {"year": 2018, "month": 3, "date": 1, "utc": true},
              {"year": 2018, "month": 6, "date": 28, "utc": true},
              {"year": 2018, "month": 10, "date": 25, "utc": true},
              {"year": 2019, "month": 2, "date": 21, "utc": true},
              {"year": 2019, "month": 6, "date": 26, "utc": true},
              {"year": 2019, "month": 10, "date": 25, "utc": true},
              {"year": 2020, "month": 2, "date": 27, "utc": true},
              {"year": 2020, "month": 6, "date": 25, "utc": true},
              {"year": 2020, "month": 10, "date": 29, "utc": true},
              {"year": 2021, "month": 2, "date": 18, "utc": true}
            ],
            "labelExpr": "utcFormat(time(datum.value) + 864000000, '%b %Y')",
            "labelAlign": {"condition": {"test": "time(datum.value) > utc(2021, 0, 20)", "value": "right"}, "value": "center"}
          }
        },
        "y": {
          "field": "value", "type": "quantitative",
          "scale": {"domain": [0, 250], "nice": false},
          "axis": {"values": [0, 50, 100, 150, 200, 250]}
        }
      },
      "layer": [
        {
          "transform": [{"filter": "datum.series != 'Fourth/Bottom 90-Day'"}],
          "mark": {"type": "line", "strokeWidth": 4.5, "interpolate": "monotone"},
          "encoding": {
            "color": {
              "field": "series", "type": "nominal",
              "scale": {"domain": ["First/Top 90-Day", "Second/Upper 90-Day", "Third/Lower 90-Day"], "range": ["#4670b5", "#7fd2bd", "#e4c384"]},
              "legend": {"legendX": 118, "legendY": 494, "symbolType": "stroke"}
            }
          }
        },
        {
          "transform": [{"filter": "datum.series == 'Fourth/Bottom 90-Day'"}],
          "mark": {"type": "line", "strokeWidth": 4.5, "interpolate": "monotone"},
          "encoding": {
            "stroke": {
              "field": "series", "type": "nominal",
              "scale": {"domain": ["Fourth/Bottom 90-Day"], "range": ["#e2302c"]},
              "legend": {"legendX": 118, "legendY": 528, "symbolType": "stroke"}
            }
          }
        },
        {
          "transform": [{"filter": "datum.series == 'First/Top 90-Day' && indexof(['2019-02-21', '2020-02-20', '2021-02-18'], isString(datum.date) ? datum.date : utcFormat(datum.date, '%Y-%m-%d')) >= 0"}],
          "mark": {"type": "point", "shape": "circle", "filled": true, "size": 440, "color": "#4670b5", "stroke": "white", "strokeWidth": 2, "opacity": 1}
        },
        {
          "transform": [{"filter": "datum.series == 'Second/Upper 90-Day' && indexof(['2019-02-21', '2020-02-20', '2021-02-18'], isString(datum.date) ? datum.date : utcFormat(datum.date, '%Y-%m-%d')) >= 0"}],
          "mark": {"type": "point", "shape": "diamond", "filled": true, "size": 340, "color": "#7fd2bd", "stroke": "white", "strokeWidth": 2, "opacity": 1}
        },
        {
          "transform": [{"filter": "datum.series == 'Third/Lower 90-Day' && indexof(['2019-02-21', '2020-02-20', '2021-02-18'], isString(datum.date) ? datum.date : utcFormat(datum.date, '%Y-%m-%d')) >= 0"}],
          "mark": {"type": "point", "shape": "square", "filled": true, "size": 400, "color": "#e4c384", "stroke": "white", "strokeWidth": 2, "opacity": 1}
        },
        {
          "transform": [{"filter": "datum.series == 'Fourth/Bottom 90-Day' && indexof(['2019-02-21', '2020-02-20', '2021-02-18'], isString(datum.date) ? datum.date : utcFormat(datum.date, '%Y-%m-%d')) >= 0"}],
          "mark": {"type": "point", "shape": "triangle-up", "filled": true, "size": 340, "color": "#e2302c", "stroke": "white", "strokeWidth": 2, "opacity": 1}
        }
      ]
    }
  ]
}
